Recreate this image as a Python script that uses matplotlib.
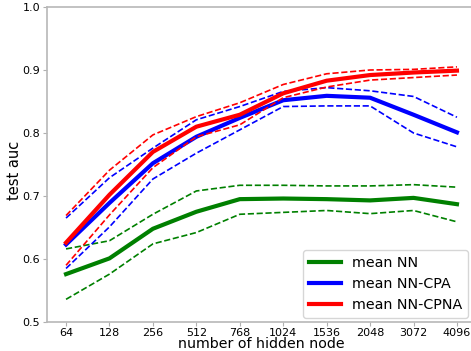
import matplotlib
matplotlib.use('Agg')
import matplotlib.pyplot as plt
import numpy as np

nodes = ['64', '128', '256', '512', '768', '1024', '1536', '2048', '3072', '4096']

nn_mean = [0.576, 0.601, 0.648, 0.675, 0.695, 0.696, 0.695, 0.693, 0.697, 0.687]
nn_upper = [0.616, 0.629, 0.671, 0.708, 0.717, 0.717, 0.716, 0.716, 0.718, 0.714]
nn_lower = [0.536, 0.576, 0.624, 0.642, 0.671, 0.674, 0.677, 0.672, 0.677, 0.659]

cpa_mean = [0.623, 0.689, 0.752, 0.794, 0.824, 0.852, 0.859, 0.856, 0.829, 0.801]
cpa_upper = [0.665, 0.729, 0.776, 0.821, 0.842, 0.866, 0.872, 0.867, 0.858, 0.825]
cpa_lower = [0.585, 0.651, 0.727, 0.768, 0.805, 0.842, 0.843, 0.843, 0.800, 0.778]

cpna_mean = [0.626, 0.702, 0.770, 0.810, 0.829, 0.863, 0.883, 0.892, 0.896, 0.899]
cpna_upper = [0.669, 0.741, 0.797, 0.826, 0.848, 0.877, 0.894, 0.900, 0.901, 0.905]
cpna_lower = [0.590, 0.670, 0.745, 0.794, 0.813, 0.856, 0.873, 0.884, 0.888, 0.892]

x = np.arange(len(nodes))

fig = plt.figure(figsize=(4.71, 3.51), dpi=100)
# axes runs past the right edge of the picture, as in the reference
ax = fig.add_axes([46.5/471, 29/351, 430/471, 315/351])

for c, lab, m, up, lo in [('g', 'mean NN', nn_mean, nn_upper, nn_lower),
                          ('b', 'mean NN-CPA', cpa_mean, cpa_upper, cpa_lower),
                          ('r', 'mean NN-CPNA', cpna_mean, cpna_upper, cpna_lower)]:
    ax.plot(x, m, color=c, lw=3, label=lab)
    ax.plot(x, up, color=c, lw=1.2, ls='--')
    ax.plot(x, lo, color=c, lw=1.2, ls='--')

ax.set_ylim(0.5, 1.0)
ax.set_xticks(x)
ax.set_xticklabels(nodes)
ax.set_yticks([0.5, 0.6, 0.7, 0.8, 0.9, 1.0])
ax.tick_params(labelsize=8, length=3, color='#b0b0b0', pad=1.5)
for s in ax.spines.values():
    s.set_color('#b8b8b8')
    s.set_linewidth(1.2)

ax.set_xlabel('number of hidden node', fontsize=10.2, labelpad=-1)
ax.set_ylabel('test auc', fontsize=10.5)
ax.yaxis.set_label_coords(-0.058, 0.48)
ax.legend(loc='lower right', fontsize=10.3, handlelength=2.2,
          labelspacing=0.5, borderaxespad=0,
          bbox_to_anchor=(468/471, 33/351), bbox_transform=fig.transFigure)

fig.savefig('out.png', dpi=100)
